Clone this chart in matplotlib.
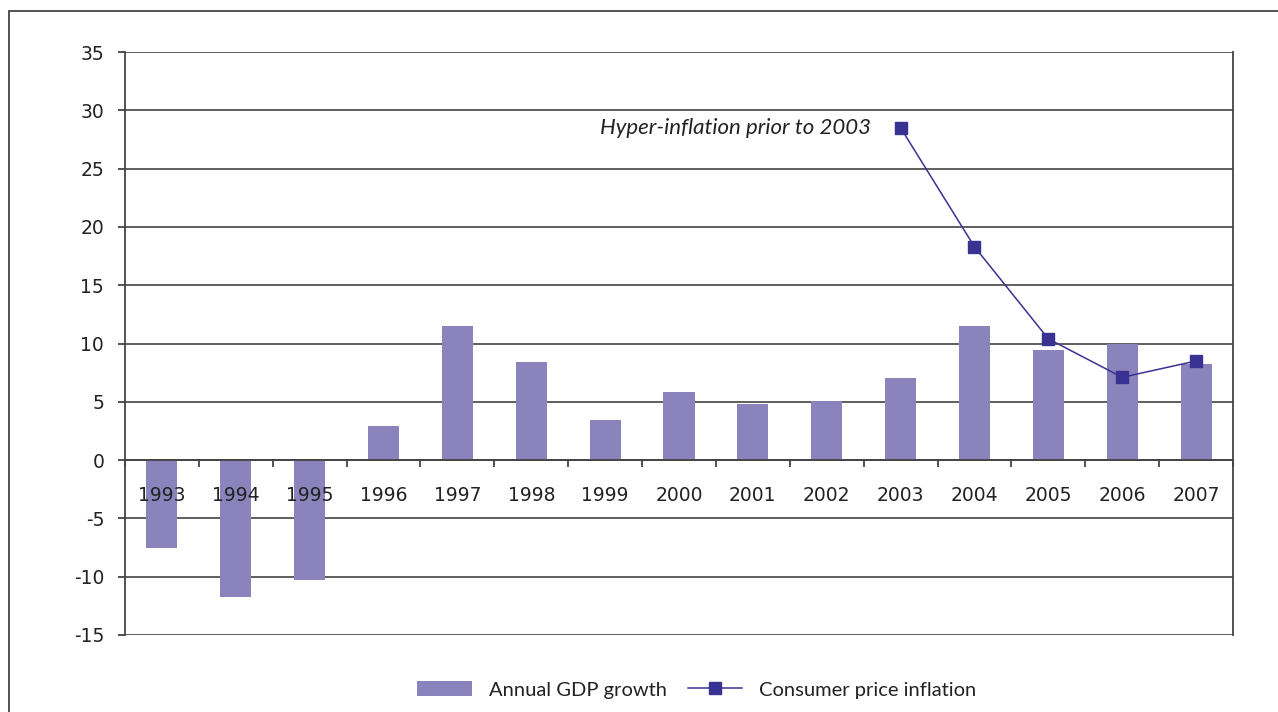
import matplotlib
matplotlib.use("Agg")
import matplotlib.pyplot as plt
from matplotlib.patches import Rectangle, Patch
from matplotlib.lines import Line2D
import numpy as np

years = ["1993", "1994", "1995", "1996", "1997", "1998", "1999", "2000",
         "2001", "2002", "2003", "2004", "2005", "2006", "2007"]
gdp_growth = [-7.5, -11.7, -10.3, 2.9, 11.5, 8.4, 3.4, 5.8, 4.8, 5.1, 7.0, 11.5, 9.4, 10.0, 8.2]
cpi_years = ["2003", "2004", "2005", "2006", "2007"]
cpi_values = [28.5, 18.3, 10.4, 7.1, 8.5]
y_ticks = [-15, -10, -5, 0, 5, 10, 15, 20, 25, 30, 35]
annotation_text = "Hyper-inflation prior to 2003"

bar_color = "#8A83BC"
line_color = "#3A3292"
grid_color = "#333333"
text_color = "#222222"

fig = plt.figure(figsize=(12.78, 7.12), dpi=100)
W, H = 1278, 712

# outer frame
fig.patches.append(Rectangle((9 / W, -0.2), 1.2, (H - 11) / H + 0.2,
                             transform=fig.transFigure, fill=False,
                             edgecolor="#444444", linewidth=1.3))

ax = fig.add_axes([125 / W, (H - 635) / H, (1233 - 125) / W, (635 - 52) / H])
ax.set_axisbelow(False)

# gridlines below bars
for v in y_ticks:
    ax.axhline(v, color=grid_color, linewidth=1.1, zorder=1)

x = np.arange(len(years))
ax.bar(x, gdp_growth, width=0.42, color=bar_color, zorder=1.8)
cpi_x = [years.index(y) for y in cpi_years]
ax.plot(cpi_x, cpi_values, color=line_color, linewidth=1.1, marker="s",
        markersize=8.6, markerfacecolor=line_color, markeredgecolor=line_color, zorder=4)

ax.set_xlim(-0.5, len(years) - 0.5)
ax.set_ylim(-15, 35)
ax.set_yticks(y_ticks)
ax.set_yticklabels([str(v) for v in y_ticks])

ax.spines["top"].set_visible(False)
ax.spines["bottom"].set_position(("data", 0))
for s in ["left", "right", "bottom"]:
    ax.spines[s].set_color("#444444")
    ax.spines[s].set_linewidth(1.3)

ax.set_xticks(x)
ax.set_xticklabels(years)
ax.set_xticks(np.arange(-0.5, len(years) + 0.5, 1.0), minor=True)
ax.tick_params(axis="x", which="major", length=0, pad=19, labelsize=13.5, labelcolor=text_color)
ax.tick_params(axis="x", which="minor", length=5, width=1.3, color="#444444", direction="out")
ax.tick_params(axis="y", length=5, width=1.3, color="#444444", pad=10, labelsize=13.5,
               labelcolor=text_color, direction="out")

ax.annotate(annotation_text, xy=(cpi_x[0], cpi_values[0]), xytext=(-21, 0),
            textcoords="offset points", ha="right", va="center",
            fontsize=16, style="italic", family="Lato", color=text_color)

handles = [Patch(facecolor=bar_color, edgecolor="none"),
           Line2D([0], [0], color=line_color, linewidth=1.1, marker="s",
                  markersize=8.6, markerfacecolor=line_color)]
fig.legend(handles, ["Annual GDP growth", "Consumer price inflation"],
           loc="center", bbox_to_anchor=(697 / W, 0.031), ncol=2, frameon=False,
           prop={"family": "Lato", "size": 14.5}, handlelength=2.7, handleheight=0.75,
           columnspacing=1.05, handletextpad=0.85, labelcolor=text_color)

fig.savefig("out.png", dpi=100)
